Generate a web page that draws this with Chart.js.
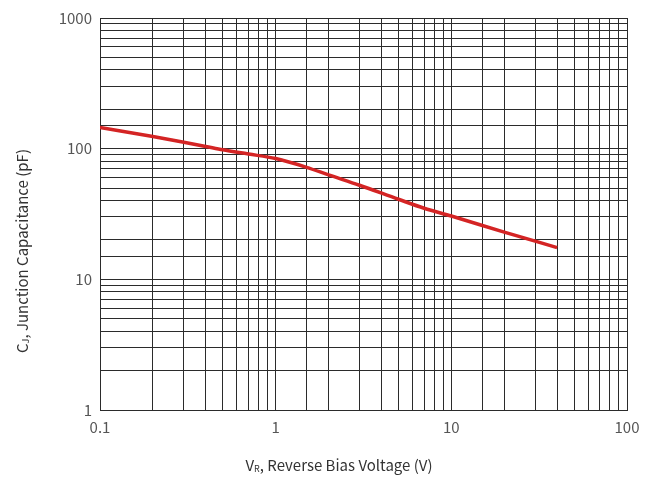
<!DOCTYPE html>
<html>
<head>
<meta charset="utf-8">
<script src="https://cdn.jsdelivr.net/npm/chart.js@4"></script>
<style>
  html, body { margin: 0; padding: 0; background: #fff; }
  #wrap { width: 654px; height: 477px; }
</style>
</head>
<body>
<div id="wrap"><canvas id="cjChart" width="654" height="477"></canvas></div>
<script>
// reverse bias voltage (V) and junction capacitance (pF)
const voltage = [0.1, 0.2, 0.3, 0.4, 0.5, 0.7, 1, 1.5, 2, 3, 5, 7, 10, 20, 40];
const capacitance = [145, 124, 112, 104, 98, 91, 84, 72, 63, 52.5, 41, 35, 30.5, 23, 17.5];
const xLabels = [0.1, 1, 10, 100];
const yLabels = [1, 10, 100, 1000];

const FONT = "'Noto Sans CJK SC', 'Noto Sans', sans-serif";
const gridColor = "#2b2b2b";

function isDecade(v, list) {
  return list.some((d) => Math.abs(v - d) < d * 1e-6);
}

// draws "main" + small subscript + rest, starting at x (left aligned)
function drawSubText(ctx, x, y, main, sub, rest) {
  ctx.font = "15px " + FONT;
  ctx.fillText(main, x, y);
  let w = ctx.measureText(main).width;
  ctx.font = "9px " + FONT;
  ctx.fillText(sub, x + w, y + 4);
  w += ctx.measureText(sub).width;
  ctx.font = "15px " + FONT;
  ctx.fillText(rest, x + w, y);
}

function subTextWidth(ctx, main, sub, rest) {
  ctx.font = "15px " + FONT;
  let w = ctx.measureText(main).width + ctx.measureText(rest).width;
  ctx.font = "9px " + FONT;
  return w + ctx.measureText(sub).width;
}

const axisTitles = {
  id: "axisTitles",
  afterDraw(chart) {
    const ctx = chart.ctx;
    ctx.save();
    ctx.fillStyle = "#333";
    ctx.textBaseline = "middle";
    ctx.textAlign = "left";
    // x title
    let w = subTextWidth(ctx, "V", "R", ", Reverse Bias Voltage (V)");
    drawSubText(ctx, 339 - w / 2, 465, "V", "R", ", Reverse Bias Voltage (V)");
    // y title
    ctx.translate(22, 251);
    ctx.rotate(-Math.PI / 2);
    w = subTextWidth(ctx, "C", "J", ", Junction Capacitance (pF)");
    drawSubText(ctx, -w / 2, 0, "C", "J", ", Junction Capacitance (pF)");
    ctx.restore();
  },
};

const ctx = document.getElementById("cjChart").getContext("2d");
new Chart(ctx, {
  type: "line",
  data: {
    datasets: [
      {
        data: voltage.map((v, i) => ({ x: v, y: capacitance[i] })),
        borderColor: "#d42424",
        borderWidth: 3.5,
        pointRadius: 0,
        fill: false,
        cubicInterpolationMode: "monotone",
      },
    ],
  },
  options: {
    responsive: false,
    animation: false,
    layout: { padding: { top: 18, right: 27, left: 0, bottom: 0 } },
    plugins: {
      legend: { display: false },
      tooltip: { enabled: false },
    },
    scales: {
      x: {
        type: "logarithmic",
        min: 0.1,
        max: 100,
        afterFit(scale) {
          scale.height = 67;
        },
        grid: { color: gridColor, lineWidth: 1, drawTicks: false },
        border: { color: gridColor, width: 1 },
        ticks: {
          autoSkip: false,
          maxRotation: 0,
          padding: 8,
          color: "#555",
          font: { family: FONT, size: 15 },
          callback: (v) => (isDecade(v, xLabels) ? String(v) : ""),
        },
      },
      y: {
        type: "logarithmic",
        min: 1,
        max: 1000,
        afterFit(scale) {
          scale.width = 100;
        },
        grid: { color: gridColor, lineWidth: 1, drawTicks: false },
        border: { color: gridColor, width: 1 },
        ticks: {
          autoSkip: false,
          padding: 8,
          color: "#555",
          font: { family: FONT, size: 15 },
          callback: (v) => (isDecade(v, yLabels) ? String(v) : ""),
        },
      },
    },
  },
  plugins: [axisTitles],
});
</script>
</body>
</html>
